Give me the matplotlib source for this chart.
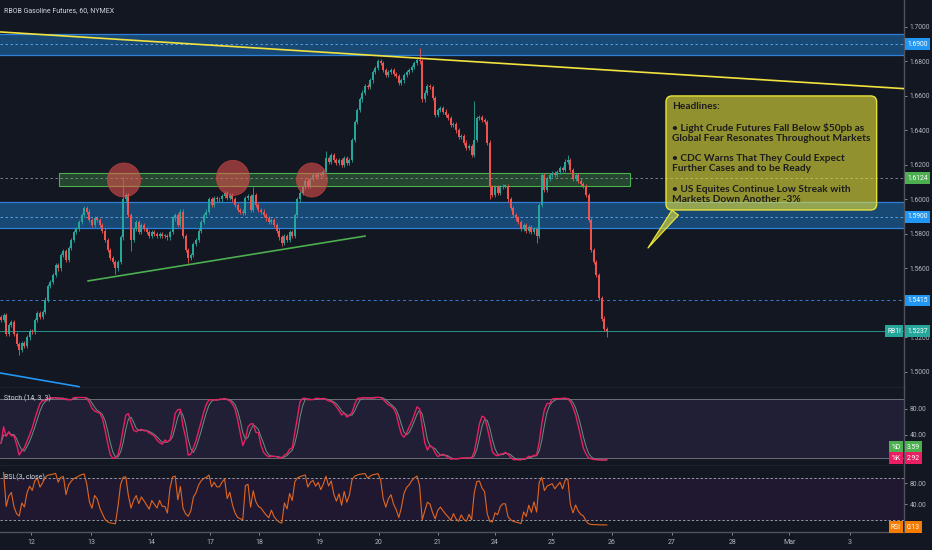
import numpy as np
import pandas as pd
import matplotlib
matplotlib.use('Agg')
from matplotlib import pyplot as plt
from matplotlib.patches import Ellipse, Rectangle

plt.rcParams['font.family'] = ['Roboto', 'DejaVu Sans']

# hourly closes, RB1! 60 min
closes = [
    1.530, 1.533, 1.522, 1.527, 1.529, 1.522, 1.516, 1.513, 1.517, 1.515, 1.520, 1.524,
    1.523, 1.530, 1.534, 1.532, 1.535, 1.542, 1.550, 1.552, 1.556, 1.562, 1.560, 1.568,
    1.570, 1.565, 1.572, 1.5765, 1.581, 1.583, 1.587, 1.591, 1.595, 1.593, 1.588, 1.585,
    1.589, 1.588, 1.585, 1.582, 1.5765, 1.5707, 1.566, 1.564, 1.560, 1.564, 1.578, 1.600,
    1.6025, 1.591, 1.5765, 1.583, 1.587, 1.581, 1.585, 1.583, 1.581, 1.579, 1.581, 1.580,
    1.579, 1.580, 1.579, 1.579, 1.578, 1.581, 1.589, 1.591, 1.585, 1.593, 1.579, 1.5707,
    1.566, 1.568, 1.574, 1.5765, 1.582, 1.587, 1.591, 1.593, 1.600, 1.597, 1.601, 1.600,
    1.600, 1.602, 1.604, 1.601, 1.6025, 1.600, 1.597, 1.594, 1.593, 1.592, 1.601, 1.602,
    1.594, 1.6025, 1.597, 1.594, 1.593, 1.591, 1.589, 1.587, 1.588, 1.585, 1.582, 1.578,
    1.575, 1.579, 1.5765, 1.581, 1.579, 1.591, 1.600, 1.604, 1.607, 1.611, 1.608, 1.612,
    1.614, 1.613, 1.615, 1.614, 1.616, 1.624, 1.622, 1.626, 1.623, 1.621, 1.623, 1.620,
    1.624, 1.621, 1.623, 1.6345, 1.645, 1.652, 1.658, 1.662, 1.666, 1.665, 1.669, 1.674,
    1.676, 1.680, 1.679, 1.675, 1.672, 1.674, 1.675, 1.673, 1.6715, 1.6675, 1.669, 1.672,
    1.674, 1.675, 1.677, 1.679, 1.681, 1.680, 1.658, 1.662, 1.666, 1.665, 1.659, 1.649,
    1.652, 1.653, 1.651, 1.649, 1.647, 1.643, 1.644, 1.640, 1.636, 1.637, 1.633, 1.630,
    1.631, 1.626, 1.6345, 1.647, 1.648, 1.646, 1.645, 1.633, 1.607, 1.6025, 1.607, 1.604,
    1.607, 1.608, 1.608, 1.600, 1.595, 1.591, 1.589, 1.587, 1.583, 1.585, 1.582, 1.584,
    1.581, 1.583, 1.579, 1.597, 1.614, 1.6055, 1.612, 1.614, 1.6154, 1.614, 1.616, 1.618,
    1.617, 1.622, 1.623, 1.617, 1.612, 1.614, 1.611, 1.609, 1.608, 1.6025, 1.588, 1.5707,
    1.564, 1.556, 1.543, 1.531, 1.525, 1.5237,
]
first_open = 1.532
# bars with long wicks
spike_highs = {47: 1.613, 97: 1.607, 125: 1.628, 161: 1.688, 182: 1.657, 218: 1.626}
spike_lows = {7: 1.510, 44: 1.557, 50: 1.570, 72: 1.563, 108: 1.573, 188: 1.600, 206: 1.575, 233: 1.520}

day_labels = ['12', '13', '14', '17', '18', '19', '20', '21', '24', '25', '26', '27', '28', 'Mar', '3']
day_ticks = [11.5, 34.6, 57.7, 80.4, 99.2, 122.3, 145.4, 168.1, 190.0, 211.9, 235.0, 258.1, 281.2, 303.1, 326.5]

price_ticks = [1.50, 1.52, 1.56, 1.58, 1.60, 1.62, 1.64, 1.66, 1.68, 1.70]
zones_blue = [(1.5835, 1.5986, 1.5900), (1.6838, 1.6959, 1.6900)]
green_zone = (22.3, 242.0, 1.6078, 1.6154)
level_grey = 1.6124
level_blue = 1.5415
last_price = 1.5237
circles = [(47.3, 1.6113, 12.8, 0.0197), (89.2, 1.6125, 12.7, 0.0204), (119.6, 1.6113, 11.9, 0.0197)]
yellow_line = [(-1, 1.6972), (348, 1.6642)]
green_line = [(33.5, 1.5528), (140, 1.5788)]
blue_line = [(-1, 1.4996), (30, 1.4915)]

headlines = ("Headlines:\n\n"
             "\u2022 Light Crude Futures Fall Below $50pb as\n"
             "Global Fear Resonates Throughout Markets\n\n"
             "\u2022 CDC Warns That They Could Expect\n"
             "Further Cases and to be Ready\n\n"
             "\u2022 US Equites Continue Low Streak with\n"
             "Markets Down Another -3%")
last_k, last_d, last_rsi = '2.92', '3.59', '0.13'

BG = '#131722'
TXT = '#B2B5BE'
SEP = '#50535E'
UP, DN = '#26A69A', '#EF5350'

c = np.array(closes)
o = np.array([first_open] + closes[:-1])
x = np.arange(len(c))
hi = np.maximum(o, c) + 0.0012
lo = np.minimum(o, c) - 0.0012
for i, v in spike_highs.items():
    hi[i] = v
for i, v in spike_lows.items():
    lo[i] = v

# Stoch (14, 3, 3)
cs, hs, ls = pd.Series(c), pd.Series(hi), pd.Series(lo)
ll = ls.rolling(14, min_periods=1).min()
hh = hs.rolling(14, min_periods=1).max()
k = (100 * (cs - ll) / (hh - ll)).rolling(3, min_periods=1).mean()
d = k.rolling(3, min_periods=1).mean()
# RSI (3, close)
delta = cs.diff()
gain = delta.clip(lower=0).ewm(alpha=1 / 3, adjust=False).mean()
loss = (-delta.clip(upper=0)).ewm(alpha=1 / 3, adjust=False).mean()
rsi = 100 - 100 / (1 + gain / loss.replace(0, 1e-9))

fig = plt.figure(figsize=(9.32, 5.5), dpi=100, facecolor=BG)
W = 904 / 932
ax = fig.add_axes([0, 1 - 388 / 550, W, 388 / 550])
ax_s = fig.add_axes([0, 1 - 466 / 550, W, 78 / 550], sharex=ax)
ax_r = fig.add_axes([0, 1 - 532 / 550, W, 66 / 550], sharex=ax)

for a in (ax, ax_s, ax_r):
    a.set_facecolor(BG)
    for s in ('top', 'left'):
        a.spines[s].set_visible(False)
    for s in ('bottom', 'right'):
        a.spines[s].set_color(SEP)
        a.spines[s].set_linewidth(1)
    a.yaxis.tick_right()
    a.tick_params(axis='y', colors=TXT, labelsize=4.9, length=2.5, width=0.5, pad=1.5)
    a.tick_params(axis='x', colors=TXT, labelsize=5.0, length=2, width=0.5)
ax.set_xlim(-0.385, 347.3)

# ---- price pane
ax.set_ylim(1.49072, 1.71565)
for lo_z, hi_z, mid in zones_blue:
    ax.axhspan(lo_z, hi_z, color='#2196F3', alpha=0.4, lw=0, zorder=1)
    ax.axhline(lo_z, color='#2F80D8', lw=0.9, zorder=1)
    ax.axhline(hi_z, color='#2F80D8', lw=0.9, zorder=1)
    ax.axhline(mid, color='#64A8EC', lw=0.6, ls=(0, (3, 3)), zorder=1)
gx0, gx1, gy0, gy1 = green_zone
ax.add_patch(Rectangle((gx0, gy0), gx1 - gx0, gy1 - gy0, fc=(0.3, 0.69, 0.31, 0.3),
                       ec='#4CAF50', lw=0.8, zorder=1))
ax.axhline(level_grey, color='#8A8D96', lw=0.6, ls=(0, (3, 3)), zorder=1)
ax.axhline(level_blue, color='#3D7BD0', lw=0.7, ls=(0, (3, 3)), zorder=1)
ax.axhline(last_price, color=UP, lw=0.6, zorder=1)

cols = np.where(c >= o, UP, DN)
ax.vlines(x, lo, hi, colors=cols, lw=0.6, zorder=3)
ax.bar(x, np.maximum(np.abs(c - o), 0.0004), bottom=np.minimum(o, c), width=0.75,
       color=cols, lw=0, zorder=3)

for cx, cy, w, h in circles:
    ax.add_patch(Ellipse((cx, cy), w, h, fc=(0.94, 0.33, 0.31, 0.55), ec=(0.75, 0.25, 0.25, 0.8),
                         lw=0.6, zorder=4))
for pts, col in ((yellow_line, '#F2E33F'), (green_line, '#4CAF50'), (blue_line, '#2196F3')):
    ax.plot([p[0] for p in pts], [p[1] for p in pts], color=col, lw=1.2, zorder=4)

ax.annotate(headlines, xy=(248.85, 1.5719), xytext=(258.1, 1.6565), textcoords='data',
            ha='left', va='top', fontsize=7.3, color='#1C1C1C', family=['Lato', 'DejaVu Sans'],
            fontweight='bold', linespacing=1.17, zorder=6,
            bbox=dict(boxstyle='round,pad=0.6,rounding_size=0.6', fc=(0.91, 0.89, 0.23, 0.6),
                      ec='#E8E33A', lw=1.0),
            arrowprops=dict(arrowstyle='wedge,tail_width=0.8', fc=(0.91, 0.89, 0.23, 0.6),
                            ec='#E8E33A', lw=0.9, relpos=(0.05, 0.0), shrinkB=0))

ax.set_yticks(price_ticks)
ax.set_yticklabels([f'{v:.4f}' for v in price_ticks])
ax.tick_params(axis='x', bottom=False, labelbottom=False)
ax.text(0.0045, 0.972, 'RBOB Gasoline Futures, 60, NYMEX', transform=ax.transAxes,
        color='#D1D4DC', fontsize=5.0, va='center', ha='left')


def badge(a, y, text, color, left=None):
    kw = dict(xycoords=('axes fraction', 'data'), textcoords='offset points', va='center',
              fontsize=4.9, color='white', annotation_clip=False, zorder=10)
    a.annotate(text, xy=(1, y), xytext=(2.2, 0), ha='left',
               bbox=dict(boxstyle='square,pad=0.35', fc=color, ec='none'), **kw)
    if left:
        a.annotate(left, xy=(1, y), xytext=(-2.2, 0), ha='right',
                   bbox=dict(boxstyle='square,pad=0.35', fc=color, ec='none'), **kw)


badge(ax, 1.6900, '1.6900', '#2196F3')
badge(ax, level_grey, '1.6124', '#4CAF50')
badge(ax, 1.5900, '1.5900', '#2196F3')
badge(ax, level_blue, '1.5415', '#2196F3')
badge(ax, last_price, f'{last_price:.4f}', UP, left='RB1!')

# ---- stochastic pane
ax_s.set_ylim(-7.7, 112.3)
ax_s.fill_between([-1, 348], 5, 95, color='#7E57C2', alpha=0.13, lw=0)
ax_s.axhline(95, color='#787B86', lw=0.6)
ax_s.axhline(5, color='#787B86', lw=0.6)
ax_s.plot(x, d, color='#6F8F7F', lw=0.7)
ax_s.plot(x, k, color='#E91E63', lw=1.0)
ax_s.set_yticks([40, 80])
ax_s.set_yticklabels(['40.00', '80.00'])
ax_s.tick_params(axis='x', bottom=False, labelbottom=False)
ax_s.text(0.0045, 0.86, 'Stoch (14, 3, 3)', transform=ax_s.transAxes, color='#D1D4DC',
          fontsize=5.0, va='center')
badge(ax_s, 21.5, last_d, '#4CAF50', left='%D')
badge(ax_s, 4.6, last_k, '#E91E63', left='%K')

# ---- RSI pane
ax_r.set_ylim(-13.3, 112.4)
ax_r.fill_between([-1, 348], 10, 90, color='#9C27B0', alpha=0.1, lw=0)
ax_r.axhline(90, color='#9598A1', lw=0.7, ls=(0, (2.5, 2)))
ax_r.axhline(10, color='#9598A1', lw=0.7, ls=(0, (2.5, 2)))
ax_r.plot(x, rsi, color='#E0661F', lw=0.8)
ax_r.set_yticks([40, 80])
ax_r.set_yticklabels(['40.00', '80.00'])
ax_r.set_xticks(day_ticks)
ax_r.set_xticklabels(day_labels)
ax_r.tick_params(axis='x', pad=3)
ax_r.text(0.0045, 0.833, 'RSI (3, close)', transform=ax_r.transAxes, color='#D1D4DC',
          fontsize=5.0, va='center')
badge(ax_r, -3.8, last_rsi, '#F57C00', left='RSI')

fig.savefig('out.png', dpi=100, facecolor=BG)
